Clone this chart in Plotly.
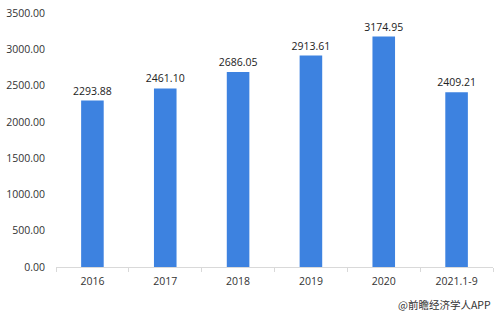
import plotly.graph_objects as go

categories = ["2016", "2017", "2018", "2019", "2020", "2021.1-9"]
values = [2293.88, 2461.10, 2686.05, 2913.61, 3174.95, 2409.21]
y_ticks = [0, 500, 1000, 1500, 2000, 2500, 3000, 3500]
source = "@前瞻经济学人APP"

fig = go.Figure()
fig.add_trace(go.Bar(
    x=categories, y=values,
    marker=dict(color="#3d82e0", line=dict(width=0)),
    text=[f"{v:.2f}" for v in values],
    textposition="outside",
    constraintext="none",
    textfont=dict(size=10.5, color="#222222"),
    cliponaxis=False,
))
fig.update_layout(
    width=499, height=314,
    margin=dict(l=52, r=6, t=11, b=47),
    paper_bgcolor="white", plot_bgcolor="white",
    bargap=0.69,
    showlegend=False,
    font=dict(family="Open Sans, Liberation Sans, sans-serif", size=10.5, color="#333333"),
    xaxis=dict(
        showline=True, linecolor="#d9d9d9", linewidth=1,
        ticks="outside", ticklen=4, tickcolor="#d9d9d9",
        tickson="boundaries",
        tickfont=dict(size=10.5, color="#333333"),
        ticklabelstandoff=4,
        showgrid=False,
    ),
    yaxis=dict(
        range=[0, 3500], tickvals=y_ticks, tickformat=".2f",
        showgrid=False, zeroline=False, showline=False,
        tickfont=dict(size=10.5, color="#333333"),
        ticklabelstandoff=10,
    ),
    annotations=[dict(
        text=source, xref="paper", yref="paper", x=1.0, y=-0.11,
        xanchor="right", yanchor="top", showarrow=False,
        font=dict(size=10.5, color="#333333", family="Noto Sans CJK SC, sans-serif"),
    )],
)
fig.write_html("out.html")
